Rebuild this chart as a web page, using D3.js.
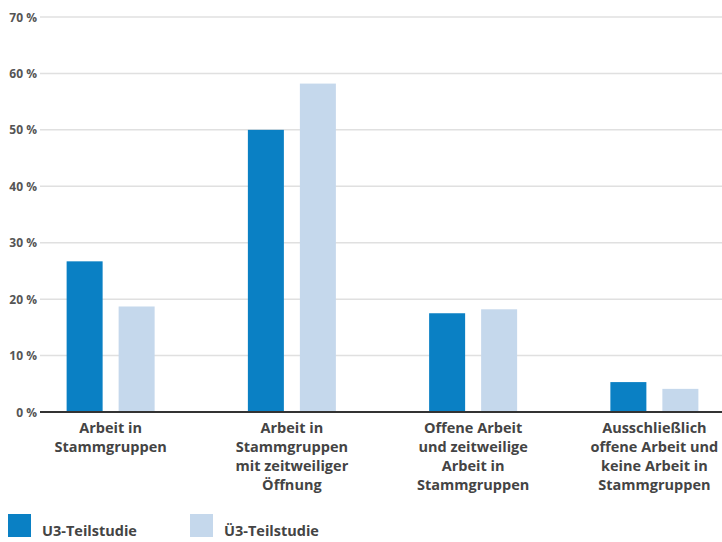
<!DOCTYPE html>
<html>
<head>
<meta charset="utf-8">
<script src="https://cdn.jsdelivr.net/npm/d3@7"></script>
<style>
  html, body { margin: 0; padding: 0; background: #fff; }
  svg { display: block; font-family: "Open Sans", "DejaVu Sans", sans-serif; }
</style>
</head>
<body>
<svg id="chart" width="722" height="542"></svg>
<script>
// Category labels (line breaks as printed)
const categories = [
  ["Arbeit in", "Stammgruppen"],
  ["Arbeit in", "Stammgruppen", "mit zeitweiliger", "Öffnung"],
  ["Offene Arbeit", "und zeitweilige", "Arbeit in", "Stammgruppen"],
  ["Ausschließlich", "offene Arbeit und", "keine Arbeit in", "Stammgruppen"]
];
const seriesNames = ["U3-Teilstudie", "Ü3-Teilstudie"];
const u3Values = [26.7, 50.0, 17.5, 5.3];
const ue3Values = [18.7, 58.2, 18.2, 4.1];
const yTicks = [0, 10, 20, 30, 40, 50, 60, 70];
const colors = ["#0a80c4", "#c5d8ec"];

const svg = d3.select("#chart");
const catKeys = categories.map((c, i) => "c" + i);

const x = d3.scaleBand().domain(catKeys).range([20, 745]).paddingInner(0).paddingOuter(0);
const xSub = d3.scaleBand().domain(seriesNames).range([-44, 44]).paddingInner(16 / 52).paddingOuter(0);
const y = d3.scaleLinear().domain([0, 70]).range([412, 17]);

const plotLeft = 40, plotRight = 722;

// Gridlines
svg.append("g").selectAll("line")
  .data(yTicks.filter(t => t > 0))
  .join("line")
  .attr("x1", plotLeft).attr("x2", plotRight)
  .attr("y1", d => y(d)).attr("y2", d => y(d))
  .attr("stroke", "#e0e0e0").attr("stroke-width", 1.5);

// Y tick labels
svg.append("g").selectAll("text")
  .data(yTicks)
  .join("text")
  .attr("x", 37).attr("y", d => y(d) + 4.5)
  .attr("text-anchor", "end")
  .attr("font-size", 12).attr("font-weight", 700)
  .attr("fill", "#555")
  .text(d => d + " %");

// Bars
const groups = svg.append("g").selectAll("g")
  .data(catKeys.map((k, i) => ({ key: k, vals: [u3Values[i], ue3Values[i]] })))
  .join("g")
  .attr("transform", d => `translate(${x(d.key) + x.bandwidth() / 2},0)`);

groups.selectAll("rect")
  .data(d => d.vals.map((v, j) => ({ name: seriesNames[j], v, j })))
  .join("rect")
  .attr("x", d => xSub(d.name))
  .attr("width", xSub.bandwidth())
  .attr("y", d => y(d.v))
  .attr("height", d => y(0) - y(d.v))
  .attr("fill", d => colors[d.j]);

// Baseline
svg.append("line")
  .attr("x1", plotLeft).attr("x2", plotRight)
  .attr("y1", y(0)).attr("y2", y(0))
  .attr("stroke", "#333").attr("stroke-width", 2);

// Category labels
const labels = svg.append("g").selectAll("text")
  .data(categories.map((c, i) => ({ key: catKeys[i], lines: c })))
  .join("text")
  .attr("text-anchor", "middle")
  .attr("font-size", 14.5).attr("font-weight", 700)
  .attr("fill", "#444")
  .attr("transform", d => `translate(${x(d.key) + x.bandwidth() / 2},433)`);
labels.selectAll("tspan")
  .data(d => d.lines)
  .join("tspan")
  .attr("x", 0)
  .attr("y", (d, i) => i * 19)
  .text(d => d);

// Legend
const legendX = [8, 190];
const legend = svg.append("g").selectAll("g")
  .data(seriesNames)
  .join("g")
  .attr("transform", (d, i) => `translate(${legendX[i]},514)`);
legend.append("rect")
  .attr("width", 23).attr("height", 23)
  .attr("fill", (d, i) => colors[i]);
legend.append("text")
  .attr("x", 34).attr("y", 22)
  .attr("font-size", 14.5).attr("font-weight", 700)
  .attr("fill", "#444")
  .text(d => d);
</script>
</body>
</html>
